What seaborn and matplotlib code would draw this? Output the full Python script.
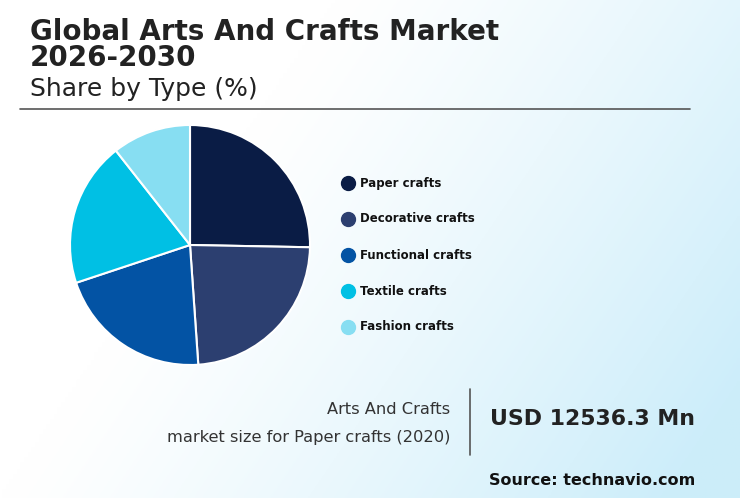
import numpy as np
import matplotlib
matplotlib.use("Agg")
import matplotlib.pyplot as plt
import seaborn as sns

types = ["Paper crafts", "Decorative crafts", "Functional crafts", "Textile crafts", "Fashion crafts"]
shares = [25.3, 23.6, 21.0, 19.5, 10.6]
colors = ["#0a1c45", "#2c3f70", "#0353a4", "#00c0e4", "#87def2"]

sns.set_style("white")
plt.rcParams['font.family'] = ['DejaVu Sans']

W, H = 740, 498
fig = plt.figure(figsize=(W / 100, H / 100), dpi=100)

# background gradient: white top-left, light blue bottom-right
bg = fig.add_axes([0, 0, 1, 1])
xx, yy = np.meshgrid(np.linspace(0, 1, 200), np.linspace(0, 1, 200))
t = np.clip(xx * 1.1 - 0.25 + yy * 0.5 - 0.25, 0, 1) ** 1.2
c0 = np.array([1.0, 1.0, 1.0])
c1 = np.array([0.80, 0.93, 0.98])
img = c0[None, None, :] * (1 - t[..., None]) + c1[None, None, :] * t[..., None]
bg.imshow(img, extent=[0, 1, 0, 1], aspect="auto", origin="upper")
bg.set_xlim(0, 1)
bg.set_ylim(0, 1)
bg.axis("off")

def fx(px):
    return px / W

def fy(py):
    return 1 - py / H

fig.text(fx(30), fy(45), "Global Arts And Crafts Market\n2026-2030", fontsize=20, fontweight="bold",
         color="#222222", va="center", linespacing=0.9)
fig.text(fx(30), fy(89), "Share by Type (%)", fontsize=18, color="#222222", va="center")
bg.plot([fx(20), fx(690)], [fy(109), fy(109)], color="#555555", lw=1.2)

r = 120
ax = fig.add_axes([fx(190 - r), fy(245 + r), 2 * r / W, 2 * r / H])
ax.pie(shares, colors=colors, startangle=90, counterclock=False,
       wedgeprops=dict(edgecolor="white", linewidth=1.5))
ax.set_aspect("auto")
ax.set_xlim(-1, 1)
ax.set_ylim(-1, 1)

for i, (name, col) in enumerate(zip(types, colors)):
    y = 183 + i * 36
    bg.scatter([fx(348)], [fy(y)], s=100, color=col, zorder=5)
    bg.text(fx(360), fy(y), name, fontsize=8.5, fontweight="bold", color="#111111", va="center")

fig.text(fx(450), fy(409), "Arts And Crafts", fontsize=11.7, color="#333333", ha="right", va="center")
fig.text(fx(450), fy(437), "market size for Paper crafts (2020)", fontsize=11.7, color="#333333",
         ha="right", va="center")
bg.plot([fx(470), fx(470)], [fy(389), fy(455)], color="#555555", lw=1.2)
fig.text(fx(490), fy(419), "USD 12536.3 Mn", fontsize=15.8, fontweight="bold", color="#222222", va="center")
fig.text(fx(695), fy(480), "Source: technavio.com", fontsize=11.5, fontweight="bold", color="#111111",
         ha="right", va="center")

fig.savefig("out.png", dpi=100)
